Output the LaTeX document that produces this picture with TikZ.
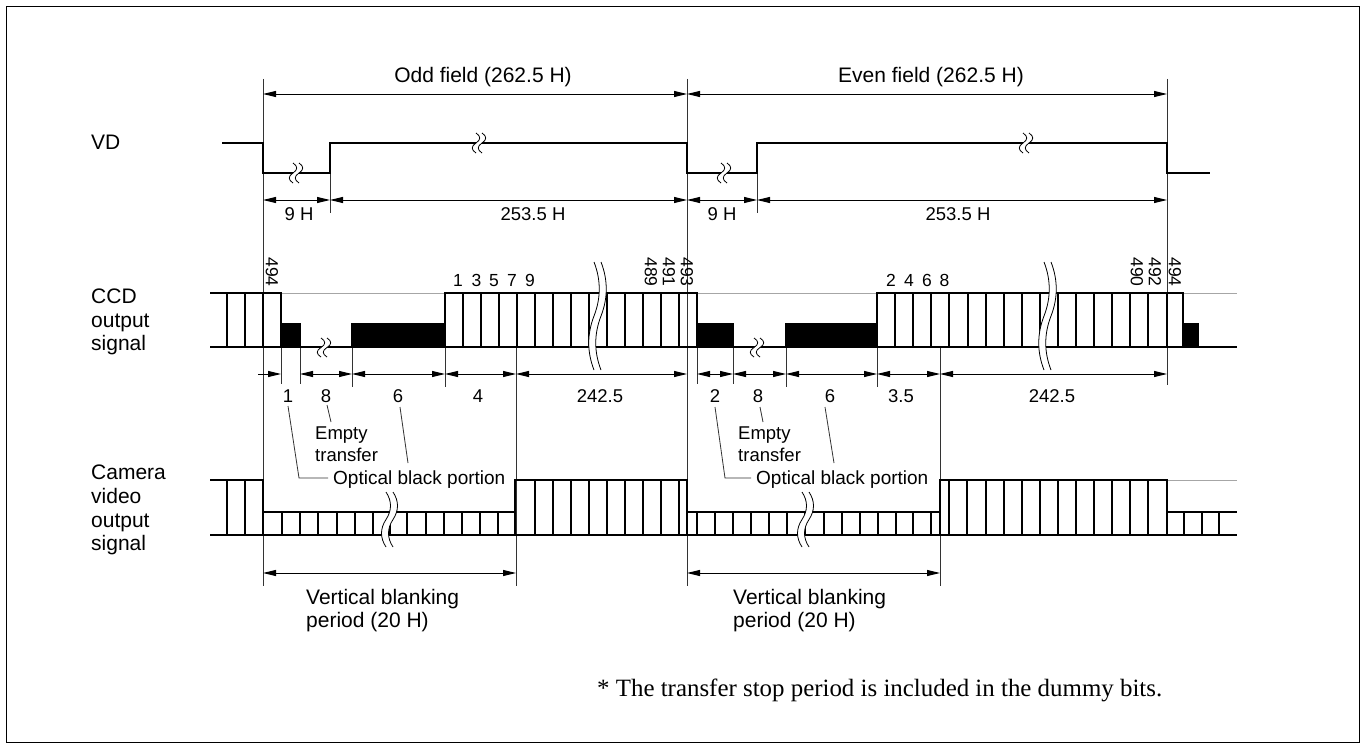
\documentclass[tikz,border=0pt]{standalone}
\usepackage{fontspec}
\setmainfont{Liberation Sans}
\newfontfamily\serifnote{Liberation Serif}
\usetikzlibrary{arrows.meta}
\tikzset{
  sig/.style={line width=2.2pt, line join=miter},
  cellline/.style={line width=1.9pt},
  guide/.style={line width=0.8pt, draw=black!80},
  grayline/.style={line width=0.8pt, draw=black!35},
  brkline/.style={line width=0.8pt},
  dim/.style={line width=0.9pt, {Triangle[length=13pt,width=6pt]}-{Triangle[length=13pt,width=6pt]}},
  dimR/.style={line width=0.9pt, -{Triangle[length=13pt,width=6pt]}},
  lab/.style={inner sep=0pt, font=\fontsize{18.5}{22}\selectfont},
  head/.style={inner sep=0pt, font=\fontsize{21}{24}\selectfont},
  side/.style={inner sep=0pt, anchor=west, align=left, font=\fontsize{21}{23.8}\selectfont},
  cnum/.style={inner sep=0pt, font=\fontsize{17.5}{20}\selectfont},
  note/.style={inner sep=0pt, align=left, font=\fontsize{18.5}{22.5}\selectfont},
}
% x, ytop, ybot, gap, amplitude
\newcommand\wbrk[5]{%
  \pgfmathsetmacro\brkM{(#2+#3)/2}%
  \pgfmathsetmacro\brkS{(#3-#2)/6}%
  \fill[white] (#1,#2) .. controls ({#1+#5},{#2+\brkS}) and ({#1+#5},{\brkM-\brkS}) .. (#1,\brkM)
     .. controls ({#1-#5},{\brkM+\brkS}) and ({#1-#5},{#3-\brkS}) .. (#1,#3)
     -- ({#1+#4},#3) .. controls ({#1+#4-#5},{#3-\brkS}) and ({#1+#4-#5},{\brkM+\brkS}) .. ({#1+#4},\brkM)
     .. controls ({#1+#4+#5},{\brkM-\brkS}) and ({#1+#4+#5},{#2+\brkS}) .. ({#1+#4},#2) -- cycle;
  \draw[brkline] (#1,#2) .. controls ({#1+#5},{#2+\brkS}) and ({#1+#5},{\brkM-\brkS}) .. (#1,\brkM)
     .. controls ({#1-#5},{\brkM+\brkS}) and ({#1-#5},{#3-\brkS}) .. (#1,#3);
  \draw[brkline] ({#1+#4},#2) .. controls ({#1+#4+#5},{#2+\brkS}) and ({#1+#4+#5},{\brkM-\brkS}) .. ({#1+#4},\brkM)
     .. controls ({#1+#4-#5},{\brkM+\brkS}) and ({#1+#4-#5},{#3-\brkS}) .. ({#1+#4},#3);
}
\begin{document}
\begin{tikzpicture}[x=1pt,y=-1pt]
\useasboundingbox (0,0) rectangle (1366,749);
\fill[white] (0,0) rectangle (1366,749);
\draw[line width=1.5pt] (6.5,6.5) rectangle (1359.5,742.5);

% ---------- guide lines ----------
\draw[guide] (263,79) -- (263,586);
\draw[guide] (687,79) -- (687,586);
\draw[guide] (1167,79) -- (1167,385);
\draw[guide] (330,173) -- (330,213);
\draw[guide] (757,173) -- (757,213);
\draw[guide] (516,347) -- (516,586);
\draw[guide] (940,347) -- (940,586);
\foreach \x/\yb in {281/384,300/384,352/387,445/387,697/384,733/384,786/387,877/387}
  \draw[guide] (\x,347) -- (\x,\yb);

% ---------- dimension arrows ----------
\draw[dim] (263,94) -- (687,94);
\draw[dim] (687,94) -- (1167,94);
\draw[dim] (263,200) -- (330,200);
\draw[dim] (330,200) -- (687,200);
\draw[dim] (687,200) -- (757,200);
\draw[dim] (757,200) -- (1167,200);
\draw[dimR] (258,374) -- (281,374);
\foreach \a/\b in {300/352,352/445,445/516,516/687,697/733,733/786,786/877,877/940,940/1167}
  \draw[dim] (\a,374) -- (\b,374);
\draw[dim] (263,573) -- (516,573);
\draw[dim] (687,573) -- (940,573);

% ---------- VD ----------
\draw[sig] (222,143) -- (263,143) -- (263,173) -- (330,173) -- (330,143) -- (687,143) -- (687,173)
  -- (757,173) -- (757,143) -- (1167,143) -- (1167,173) -- (1210,173);
\wbrk{293}{163}{183}{6}{5}
\wbrk{476}{133}{153}{6}{5}
\wbrk{721}{163}{183}{6}{5}
\wbrk{1023}{133}{153}{6}{5}

% ---------- CCD output ----------
\draw[grayline] (281,293) -- (445,293);
\draw[grayline] (697,293) -- (877,293);
\draw[grayline] (1183,293) -- (1237,293);
\fill (281,324) rectangle (300,347);
\fill (352,324) rectangle (445,347);
\fill (697,324) rectangle (733,347);
\fill (786,324) rectangle (877,347);
\fill (1183,324) rectangle (1198,347);
\draw[sig] (210,293) -- (281,293) -- (281,324) -- (300,324) -- (300,347);
\draw[sig] (352,347) -- (352,324) -- (445,324) -- (445,293) -- (697,293) -- (697,324) -- (733,324) -- (733,347);
\draw[sig] (786,347) -- (786,324) -- (877,324) -- (877,293) -- (1183,293) -- (1183,324) -- (1198,324) -- (1198,347);
\draw[sig] (210,347) -- (1237,347);
\foreach \x in {227,245,263,281,445,463,481,499,517,535,553,571,589,607,625,643,661,679,697,
                877,895,913,931,949,968,986,1004,1022,1040,1058,1076,1094,1112,1130,1148,1167,1183}
  \draw[cellline] (\x,293) -- (\x,347);
\wbrk{594}{262}{370}{7}{7}
\wbrk{1044}{262}{370}{7}{7}
\wbrk{321}{338}{357}{6}{5}
\wbrk{754}{338}{357}{6}{5}

% ---------- Camera video output ----------
\draw[grayline] (1167,480) -- (1237,480);
\draw[sig] (210,480) -- (263,480) -- (263,512) -- (515,512) -- (515,480) -- (687,480) -- (687,512)
  -- (940,512) -- (940,480) -- (1167,480) -- (1167,512) -- (1237,512);
\draw[sig] (210,535) -- (1237,535);
\foreach \x in {227,245,263,515,535,553,571,589,607,625,643,661,679,687,
                940,949,967,986,1004,1022,1040,1058,1076,1094,1112,1130,1148,1167}
  \draw[cellline] (\x,480) -- (\x,535);
\foreach \x in {282,300,318,337,355,373,390,407,426,444,462,480,498,
                697,715,733,751,769,787,805,824,842,860,878,896,913,931,
                1184,1202,1219}
  \draw[cellline] (\x,512) -- (\x,535);
\wbrk{386}{492}{547}{7}{6}
\wbrk{802}{492}{547}{7}{6}

% ---------- texts ----------
\node[head] (tOdd) at (483,77) {Odd field (262.5 H)};
\node[head] (tEven) at (931,77) {Even field (262.5 H)};
\node[side] (tVD) at (91,142) {VD};
\node[side] (tCCD) at (91,322) {CCD\\output\\signal};
\node[side] (tCam) at (91,510) {Camera\\video\\output\\signal};

\node[lab] (h9a) at (299,214) {9 H};
\node[lab] (h253a) at (533,214) {253.5 H};
\node[lab] (h9b) at (722,214) {9 H};
\node[lab] (h253b) at (958,214) {253.5 H};

\node[cnum, rotate=-90] (c494a) at (272,272) {494};
\node[cnum, rotate=-90] (c489) at (651,272) {489};
\node[cnum, rotate=-90] (c491) at (669,272) {491};
\node[cnum, rotate=-90] (c493) at (687,272) {493};
\node[cnum, rotate=-90] (c490) at (1137,272) {490};
\node[cnum, rotate=-90] (c492) at (1155,272) {492};
\node[cnum, rotate=-90] (c494b) at (1175,272) {494};
\foreach \x/\t [count=\i] in {458/1,476.5/3,494/5,512/7,530/9}
  \node[cnum, anchor=base] (co\i) at (\x,286.3) {\t};
\foreach \x/\t [count=\i] in {891/2,909/4,927/6,944.5/8}
  \node[cnum, anchor=base] (ce\i) at (\x,286.3) {\t};

\node[lab] (d1) at (288,396) {1};
\node[lab] (d8a) at (326,396) {8};
\node[lab] (d6a) at (398,396) {6};
\node[lab] (d4) at (478,396) {4};
\node[lab] (d242a) at (600,396) {242.5};
\node[lab] (d2) at (715,396) {2};
\node[lab] (d8b) at (758,396) {8};
\node[lab] (d6b) at (830,396) {6};
\node[lab] (d35) at (901,396) {3.5};
\node[lab] (d242b) at (1052,396) {242.5};

\node[note, anchor=west] (eta) at (315,444) {Empty\\transfer};
\node[note, anchor=west] (etb) at (738,444) {Empty\\transfer};
\node[lab, anchor=west, font=\fontsize{19}{22}\selectfont] (oba) at (333,480) {Optical black portion};
\node[lab, anchor=west, font=\fontsize{19}{22}\selectfont] (obb) at (756,480) {Optical black portion};

\draw[guide] (327,405) -- (331,422);
\draw[guide] (288,406) -- (299,478) -- (328,478);
\draw[guide] (400,407) -- (408,463);
\draw[guide] (760,407) -- (763,422);
\draw[guide] (715,407) -- (725,478) -- (751,478);
\draw[guide] (825,407) -- (834,463);

\node[side, font=\fontsize{21}{23}\selectfont] (vba) at (306,611) {Vertical blanking\\period (20 H)};
\node[side, font=\fontsize{21}{23}\selectfont] (vbb) at (733,611) {Vertical blanking\\period (20 H)};

\node[inner sep=0pt, anchor=west, font=\serifnote\fontsize{24.9}{28}\selectfont] (fn) at (597,690)
  {* The transfer stop period is included in the dummy bits.};
\end{tikzpicture}
\end{document}
